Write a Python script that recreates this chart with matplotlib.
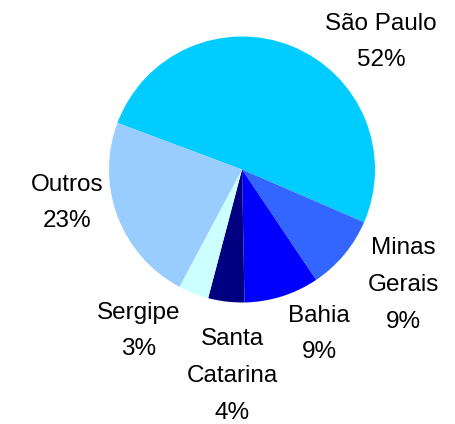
import matplotlib.pyplot as plt

plt.rcParams['font.family'] = ['Liberation Sans', 'DejaVu Sans']

states = ['São Paulo', 'Minas Gerais', 'Bahia', 'Santa Catarina', 'Sergipe', 'Outros']
shares = [50.8, 9.1, 9.1, 4.4, 3.7, 22.9]
pct_labels = ['52%', '9%', '9%', '4%', '3%', '23%']
colors = ['#00CCFF', '#3366FF', '#0000FF', '#000080', '#CCFFFF', '#99CCFF']

# label text as it is broken over lines in the original
label_text = ['São Paulo', 'Minas\nGerais', 'Bahia', 'Santa\nCatarina', 'Sergipe', 'Outros']
# label block centres in pixel coordinates (y measured from top)
label_pos = [(381, 42), (403, 285), (319, 334), (232, 376), (139, 331), (67, 203)]

W, H = 456, 424
fig = plt.figure(figsize=(W / 100, H / 100), dpi=100)
ax = fig.add_axes([0, 0, 1, 1])

ax.pie(shares, colors=colors, startangle=159.5, counterclock=False,
       center=(242, H - 169.5), radius=133,
       wedgeprops=dict(linewidth=0.3, edgecolor='none'))

for i, (x, y) in enumerate(label_pos):
    ax.text(x, H - y, label_text[i] + '\n' + pct_labels[i], ha='center', va='center',
            fontsize=17.5, linespacing=1.86, color='black')

ax.set_xlim(0, W)
ax.set_ylim(0, H)
ax.set_aspect('equal')
ax.axis('off')

fig.savefig('out.png', dpi=100)
